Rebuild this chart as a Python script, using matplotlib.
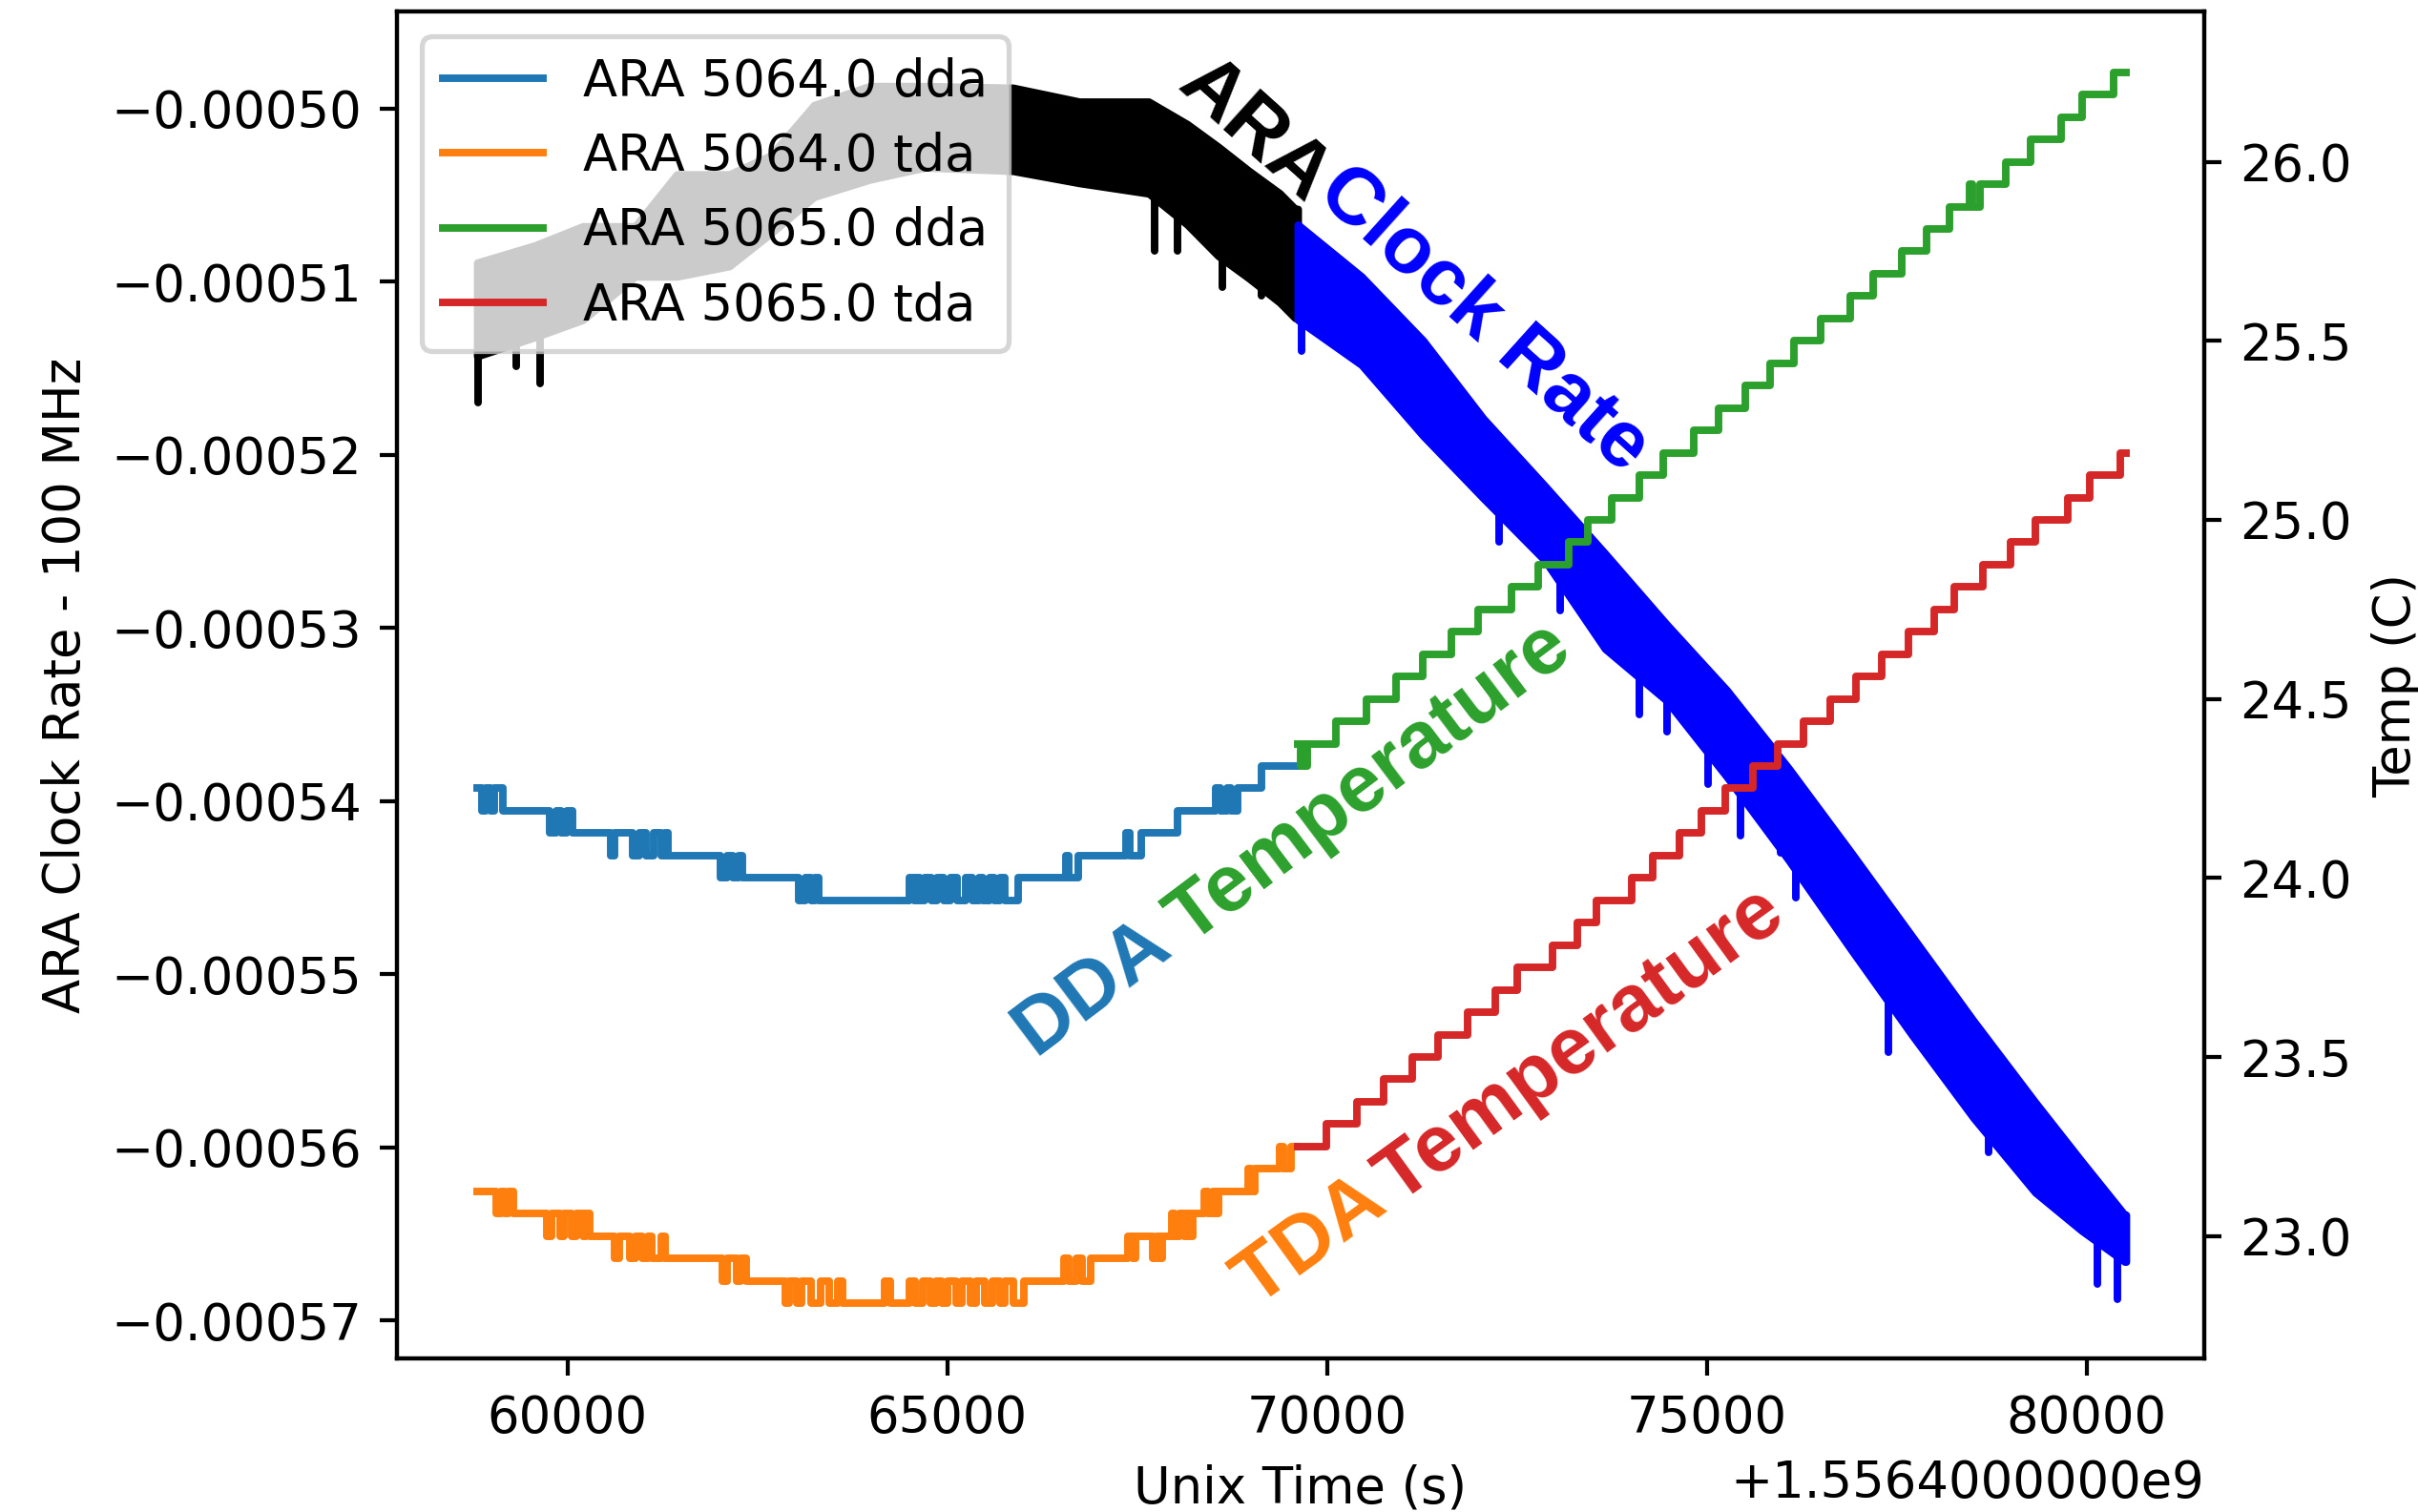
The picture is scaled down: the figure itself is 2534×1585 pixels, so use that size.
import numpy as np
import matplotlib
matplotlib.use("Agg")
import matplotlib.pyplot as plt
from matplotlib.ticker import ScalarFormatter

# unix time offset used by the run files
base = 1556400000

# ---- DDA / TDA temperatures, (time offset [s], temp [C]) change points ----
dda_5064 = [
    (58812, 24.25), (58880, 24.1875), (58930, 24.25), (58990, 24.1875), (59040, 24.25), (59147, 24.1875),
    (59770, 24.125), (59850, 24.1875), (59920, 24.125), (59990, 24.1875), (60070, 24.125),
    (60570, 24.0625), (60620, 24.125),
    (60860, 24.0625), (60950, 24.125), (61040, 24.0625), (61130, 24.125), (61230, 24.0625), (61290, 24.125), (61330, 24.0625),
    (62015, 24.0), (62100, 24.0625), (62180, 24.0), (62250, 24.0625), (62305, 24.0),
    (63040, 23.9375), (63130, 24.0), (63210, 23.9375), (63260, 24.0), (63310, 23.9375),
    (64500, 24.0), (64560, 23.9375), (64600, 24.0), (64640, 23.9375), (64700, 24.0), (64790, 23.9375),
    (64870, 24.0), (64950, 23.9375), (65040, 24.0), (65130, 23.9375), (65240, 24.0), (65330, 23.9375),
    (65420, 24.0), (65470, 23.9375), (65560, 24.0), (65620, 23.9375), (65700, 24.0), (65760, 23.9375), (65930, 24.0),
    (66560, 24.0625), (66600, 24.0), (66720, 24.0625),
    (67360, 24.125), (67410, 24.0625), (67560, 24.125),
    (68030, 24.1875),
    (68530, 24.25), (68600, 24.1875), (68680, 24.25), (68740, 24.1875), (68830, 24.25),
    (69140, 24.3125), (69616, 24.3125),
]
tda_5064 = [
    (58812, 23.125), (59063, 23.0625), (59120, 23.125), (59180, 23.0625), (59230, 23.125), (59290, 23.0625),
    (59730, 23.0), (59790, 23.0625), (59900, 23.0), (59960, 23.0625), (60050, 23.0), (60120, 23.0625),
    (60200, 23.0), (60240, 23.0625), (60294, 23.0),
    (60620, 22.9375), (60680, 23.0), (60820, 22.9375), (60900, 23.0), (60980, 22.9375), (61060, 23.0),
    (61110, 22.9375), (61230, 23.0), (61288, 22.9375),
    (62040, 22.875), (62100, 22.9375), (62230, 22.875), (62280, 22.9375), (62355, 22.875),
    (62870, 22.8125), (62920, 22.875), (63020, 22.8125), (63080, 22.875), (63210, 22.8125), (63330, 22.875),
    (63450, 22.8125), (63560, 22.875), (63622, 22.8125),
    (64175, 22.875), (64250, 22.8125), (64500, 22.875), (64580, 22.8125), (64680, 22.875), (64780, 22.8125),
    (64860, 22.875), (64930, 22.8125), (65010, 22.875), (65120, 22.8125), (65190, 22.875), (65310, 22.8125),
    (65380, 22.875), (65500, 22.8125), (65590, 22.875), (65700, 22.8125), (65760, 22.875), (65870, 22.8125), (66010, 22.875),
    (66540, 22.9375), (66600, 22.875), (66700, 22.9375), (66780, 22.875), (66890, 22.9375),
    (67380, 23.0), (67440, 22.9375), (67480, 23.0), (67700, 22.9375), (67760, 23.0), (67800, 22.9375), (67830, 23.0),
    (67960, 23.0625), (68000, 23.0), (68060, 23.0625), (68120, 23.0), (68160, 23.0625), (68200, 23.0), (68235, 23.0625),
    (68380, 23.125), (68440, 23.0625), (68500, 23.125), (68540, 23.0625), (68575, 23.125),
    (68960, 23.1875), (69000, 23.125), (69055, 23.1875),
    (69380, 23.25), (69430, 23.1875), (69530, 23.25), (69616, 23.25),
]
dda_5065 = [
    (69616, 24.375), (69650, 24.3125), (69690, 24.375), (69720, 24.3125), (69740, 24.375),
    (70118, 24.4375), (70520, 24.5), (70910, 24.5625), (71261, 24.625), (71638, 24.6875), (71990, 24.75),
    (72430, 24.8125), (72782, 24.875), (73183, 24.9375), (73435, 25.0), (73749, 25.0625), (74113, 25.125),
    (74427, 25.1875), (74829, 25.25), (75156, 25.3125), (75508, 25.375), (75834, 25.4375), (76148, 25.5),
    (76500, 25.5625), (76890, 25.625), (77191, 25.6875), (77568, 25.75), (77895, 25.8125), (78196, 25.875),
    (78460, 25.9375), (78500, 25.875),
    (78598, 25.9375), (78937, 26.0), (79264, 26.0625), (79666, 26.125), (79942, 26.1875), (80357, 26.25),
    (80520, 26.25),
]
tda_5065 = [
    (69616, 23.25), (69993, 23.3125), (70395, 23.375), (70747, 23.4375), (71123, 23.5), (71462, 23.5625),
    (71852, 23.625), (72216, 23.6875), (72505, 23.75), (72970, 23.8125), (73297, 23.875), (73548, 23.9375),
    (74013, 24.0), (74289, 24.0625), (74641, 24.125), (74930, 24.1875), (75244, 24.25), (75608, 24.3125),
    (75935, 24.375), (76274, 24.4375), (76626, 24.5), (76965, 24.5625), (77304, 24.625), (77656, 24.6875),
    (77995, 24.75), (78259, 24.8125), (78636, 24.875), (79001, 24.9375), (79327, 25.0), (79754, 25.0625),
    (80043, 25.125), (80445, 25.1875), (80520, 25.1875),
]

# ---- ARA clock rate - 100 MHz, band of readings, (time offset, top, bottom) in 1e-6 MHz ----
clock_5064_t = [58812, 59574, 60203, 60893, 61441, 62132, 62680, 63248, 63979, 64710, 65867,
                66740, 67653, 68161, 68567, 68973, 69379, 69582, 69616]
clock_5064_top = [-508.9, -507.9, -506.8, -506.8, -503.8, -503.8, -502.7, -499.8, -498.7, -498.7, -498.8,
                  -499.6, -499.6, -500.9, -502.2, -503.6, -504.9, -505.8, -505.8]
clock_5064_bot = [-514.3, -513.2, -512.2, -509.7, -509.7, -509.1, -507.2, -505.1, -504.1, -503.4, -503.6,
                  -504.3, -504.9, -506.7, -508.5, -509.8, -511.2, -512.1, -512.1]
spikes_5064_t = [58823, 59330, 59635, 67734, 68039, 68628, 69135]
spikes_5064_v = [-517.0, -514.9, -515.9, -508.2, -508.2, -510.3, -510.8]

clock_5065_t = [69616, 70455, 71267, 72058, 72870, 73662, 74474, 75266, 76078, 76890, 77702,
                78514, 79326, 79935, 80503, 80520]
clock_5065_top = [-506.7, -509.7, -513.4, -517.9, -521.8, -525.7, -529.8, -533.6, -538.1, -542.9, -547.8,
                  -552.7, -557.4, -560.8, -563.9, -563.9]
clock_5065_bot = [-512.2, -514.8, -518.9, -522.5, -526.1, -531.2, -534.2, -538.6, -543.4, -548.5, -553.5,
                  -558.3, -562.6, -564.8, -566.6, -566.6]
spikes_5065_t = [69663, 72261, 73073, 74109, 74474, 75022, 75448, 75976, 76179, 77397, 78717, 80138, 80402]
spikes_5065_v = [-514.0, -525.0, -529.0, -535.0, -536.0, -539.0, -542.0, -543.0, -545.6, -554.5, -560.3,
                 -567.9, -568.8]


class BaseOffsetFormatter(ScalarFormatter):
    # matplotlib writes the offset as +1.5564e9, the original shows all digits
    def get_offset(self):
        s = super().get_offset()
        if not s:
            return s
        mant, exp = ("%1.10e" % self.offset).split("e")
        return "+%se%d" % (mant, int(exp))


def clock_band(ax, t, top, bot, spk_t, spk_v, color):
    t = np.asarray(t, float)
    top = np.asarray(top) * 1e-6
    bot = np.asarray(bot) * 1e-6
    ax.fill_between(base + t, top, bot, color=color, lw=1.5, edgecolor=color)
    # glitches hanging below the band, drawn down from the band's lower edge
    start = np.interp(spk_t, t, bot) + 0.3e-6
    ax.vlines(base + np.asarray(spk_t, float), np.asarray(spk_v) * 1e-6, start,
              color=color, lw=1.5, capstyle="round")


fig = plt.figure(figsize=(2534 / 380, 1585 / 380), dpi=380)
ax1 = fig.add_axes([416 / 2534, 1 - 1424 / 1585, 1894 / 2534, 1412 / 1585])
ax2 = ax1.twinx()

clock_band(ax1, clock_5064_t, clock_5064_top, clock_5064_bot, spikes_5064_t, spikes_5064_v, "k")
clock_band(ax1, clock_5065_t, clock_5065_top, clock_5065_bot, spikes_5065_t, spikes_5065_v, "b")

series = [("ARA 5064.0 dda", dda_5064, "tab:blue"),
          ("ARA 5064.0 tda", tda_5064, "tab:orange"),
          ("ARA 5065.0 dda", dda_5065, "tab:green"),
          ("ARA 5065.0 tda", tda_5065, "tab:red")]
for label, pts, col in series:
    tt, vv = zip(*pts)
    ax2.plot(base + np.array(tt, float), vv, drawstyle="steps-post", color=col, lw=1.5, label=label)

ax1.set_xlim(base + 57756, base + 81551)
ax1.set_ylim(-0.00057219, -0.00049439)
ax2.set_ylim(22.658, 26.420)
ax1.xaxis.set_major_formatter(BaseOffsetFormatter(useOffset=base))

ax1.set_xlabel("Unix Time (s)")
ax1.set_ylabel("ARA Clock Rate - 100 MHz")
ax2.set_ylabel("Temp (C)")
ax2.legend(loc="upper left")

# in-plot labels
kw = dict(transform=ax1.transAxes, family=["Liberation Sans", "DejaVu Sans"], fontweight="bold",
          fontsize=16, ha="center", va="center", rotation_mode="anchor")
ax1.text(0.4745, 0.9112, "ARA", color="k", rotation=-42, **kw)
ax1.text(0.6012, 0.7716, "Clock Rate", color="b", rotation=-42, **kw)
ax1.text(0.3844, 0.2762, "DDA", color="tab:blue", rotation=37, **kw)
ax1.text(0.538, 0.427, "Temperature", color="tab:green", rotation=37, **kw)
ax1.text(0.5056, 0.0871, "TDA", color="tab:orange", rotation=36, **kw)
ax1.text(0.6548, 0.2326, "Temperature", color="tab:red", rotation=36, **kw)

fig.savefig("out.png", dpi=380)
